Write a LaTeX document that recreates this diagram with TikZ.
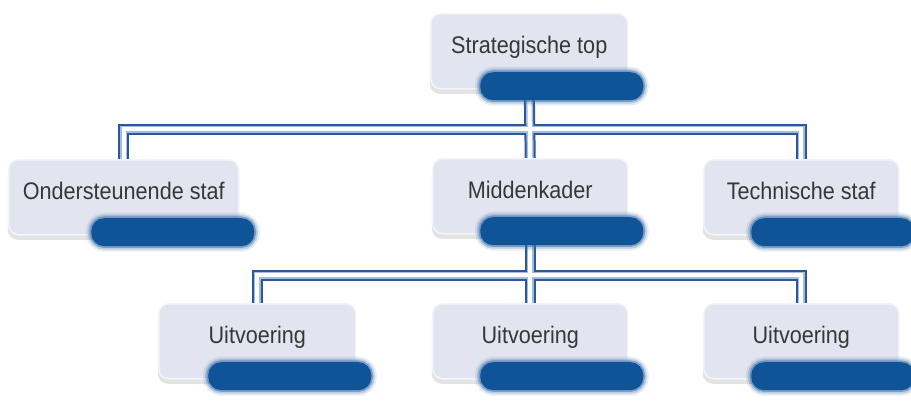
\documentclass[tikz,border=0pt]{standalone}
\usepackage{fontspec}
\setmainfont{Liberation Sans}[FakeStretch=0.9]
\usetikzlibrary{shadows,backgrounds}

\definecolor{boxfill}{RGB}{226,229,240}
\definecolor{boxedge}{RGB}{242,244,250}
\definecolor{barblue}{RGB}{14,84,150}
\definecolor{barglow}{RGB}{60,110,170}
\definecolor{linkblue}{RGB}{42,88,155}
\definecolor{linklight}{RGB}{165,188,222}
\definecolor{textgrey}{RGB}{55,55,55}

\tikzset{
 unit/.style={anchor=north west,rounded corners=10pt,fill=boxfill,draw=boxedge,line width=1.5pt,minimum height=75pt,text height=15pt,text depth=11pt,text=textgrey,font=\fontsize{24}{28}\selectfont,drop shadow={shadow xshift=-1pt,shadow yshift=-5pt,opacity=.18,fill=black!60}},
 bar/.style={anchor=north east,xshift=15pt,yshift=-59pt,minimum width=163pt,minimum height=28pt,inner sep=0pt,rounded corners=13pt,fill=barblue,preaction={draw=barglow,line width=11pt,draw opacity=.12},preaction={draw=barglow,line width=7pt,draw opacity=.25},preaction={draw=barglow,line width=3.5pt,draw opacity=.5}},
 linkout/.style={draw=linkblue,line width=11pt},
 linkmid/.style={draw=linklight,line width=7pt},
 linkin/.style={draw=white,line width=4pt},
}

\begin{document}
\begin{tikzpicture}[x=1pt,y=1pt]
 \useasboundingbox (0,0) rectangle (911,-400);

 % top
 \node[unit,minimum width=197pt] (top) at (430,-13) {Strategische top};
 \node[bar] (top-bar) at (top.north east) {};

 % middle row
 \node[unit,minimum width=230pt] (ond) at (8,-159) {Ondersteunende staf};
 \node[bar] (ond-bar) at (ond.north east) {};
 \node[unit,minimum width=195pt] (mid) at (432,-158) {Middenkader};
 \node[bar] (mid-bar) at (mid.north east) {};
 \node[unit,minimum width=195pt] (tech) at (703,-159) {Technische staf};
 \node[bar] (tech-bar) at (tech.north east) {};

 % bottom row
 \node[unit,minimum width=197pt] (uit1) at (158,-303) {Uitvoering};
 \node[bar] (uit1-bar) at (uit1.north east) {};
 \node[unit,minimum width=195pt] (uit2) at (432,-303) {Uitvoering};
 \node[bar] (uit2-bar) at (uit2.north east) {};
 \node[unit,minimum width=195pt] (uit3) at (703,-303) {Uitvoering};
 \node[bar] (uit3-bar) at (uit3.north east) {};

 \coordinate (topbus) at (528,-129);
 \coordinate (lowbus) at (529,-275);

 \begin{scope}[on background layer]
  \foreach \pen in {linkout,linkmid,linkin}{
   \draw[\pen] (ond.north) |- (topbus) -| (tech.north);
   \draw[\pen] (top.south) -- (mid.north);
   \draw[\pen] (uit1.north) |- (lowbus) -| (uit3.north);
   \draw[\pen] (mid.south) -- (uit2.north);
  }
 \end{scope}
\end{tikzpicture}
\end{document}
